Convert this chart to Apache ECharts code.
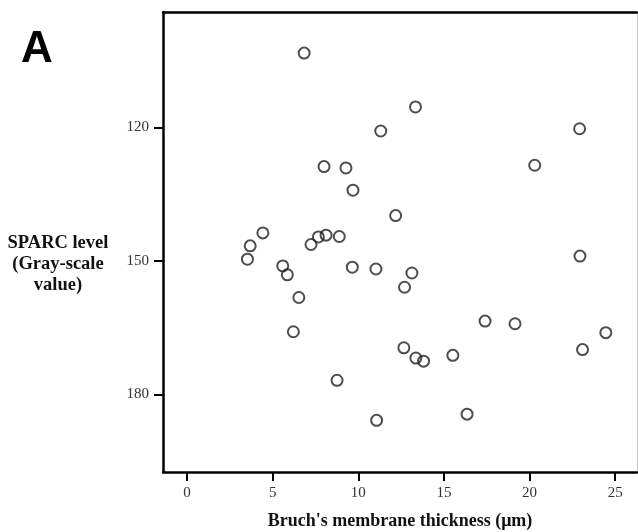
<!DOCTYPE html>
<html>
<head>
<meta charset="utf-8">
<script src="https://cdn.jsdelivr.net/npm/echarts@6/dist/echarts.min.js"></script>
<style>
html,body{margin:0;padding:0;background:#fff;}
#main{width:638px;height:532px;}
</style>
</head>
<body>
<div id="main"></div>
<script>
// 数据：Bruch's membrane thickness (μm) 与 SPARC level
var thickness = [6.84, 13.34, 11.31, 22.92, 8.00, 9.28, 20.30, 9.69, 12.18, 4.43,
                 3.69, 3.53, 7.24, 7.67, 8.12, 8.89, 5.59, 5.86, 9.65, 11.03,
                 13.13, 22.94, 12.70, 6.53, 6.21, 17.40, 19.15, 24.45, 12.66, 13.36,
                 13.81, 15.52, 23.09, 8.76, 11.07, 16.35];
var sparc = [103.3, 115.4, 120.8, 120.3, 128.8, 129.1, 128.5, 134.1, 139.8, 143.7,
             146.6, 149.6, 146.3, 144.6, 144.2, 144.5, 151.1, 153.1, 151.4, 151.8,
             152.7, 148.9, 155.9, 158.2, 165.9, 163.5, 164.1, 166.1, 169.5, 171.8,
             172.5, 171.2, 169.9, 176.8, 185.8, 184.4];
var xTicks = [0, 5, 10, 15, 20, 25];
var yTicks = [120, 150, 180];

var points = [];
for (var i = 0; i < thickness.length; i++) {
	points.push([thickness[i], sparc[i]]);
}

var myChart = echarts.init(document.getElementById('main'));

var serif = '"Liberation Serif", "DejaVu Serif", serif';

var option = {
	animation: false,
	backgroundColor: '#fff',
	title: {
		text: 'A',
		left: 16,
		top: 23,
		textStyle: {fontFamily: '"Liberation Sans", Arial, sans-serif', fontWeight: 'bold', fontSize: 44, color: '#000'}
	},
	graphic: [
		{
			type: 'text',
			x: 58,
			y: 233,
			style: {
				text: 'SPARC level\n(Gray-scale\nvalue)',
				align: 'center',
				lineHeight: 21,
				font: 'bold 18.5px ' + serif,
				fill: '#111'
			}
		}
	],
	grid: {left: 163, top: 12, right: 1, bottom: 60, outerBoundsMode: 'none'},
	xAxis: [
		{
			type: 'value',
			min: -1.4,
			max: 26.27,
			name: "Bruch's membrane thickness (μm)",
			nameLocation: 'middle',
			nameGap: 40,
			nameTextStyle: {fontFamily: serif, fontWeight: 'bold', fontSize: 18, color: '#111'},
			splitLine: {show: false},
			axisLine: {onZero: false, lineStyle: {color: '#000', width: 2.5}},
			axisTick: {customValues: xTicks, length: 9, lineStyle: {color: '#000', width: 2}},
			axisLabel: {customValues: xTicks, margin: 14, fontFamily: serif, fontSize: 15, color: '#333'}
		},
		{
			type: 'value',
			position: 'top',
			min: -1.4,
			max: 26.27,
			splitLine: {show: false},
			axisLine: {onZero: false, lineStyle: {color: '#000', width: 2.5}},
			axisTick: {show: false},
			axisLabel: {show: false}
		}
	],
	yAxis: [
		{
			type: 'value',
			inverse: true,
			min: 94.07,
			max: 197.4,
			splitLine: {show: false},
			axisLine: {onZero: false, lineStyle: {color: '#000', width: 2.5}},
			axisTick: {customValues: yTicks, length: 9, lineStyle: {color: '#000', width: 2}},
			axisLabel: {customValues: yTicks, margin: 14, fontFamily: serif, fontSize: 15, color: '#333'}
		},
		{
			type: 'value',
			position: 'right',
			inverse: true,
			min: 94.07,
			max: 197.4,
			splitLine: {show: false},
			axisLine: {onZero: false, lineStyle: {color: '#ccc', width: 1}},
			axisTick: {show: false},
			axisLabel: {show: false}
		}
	],
	series: [
		{
			type: 'scatter',
			data: points,
			symbol: 'circle',
			symbolSize: 11,
			itemStyle: {color: 'rgba(0,0,0,0)', borderColor: '#222', borderWidth: 2}
		}
	]
};

myChart.setOption(option);
</script>
</body>
</html>
